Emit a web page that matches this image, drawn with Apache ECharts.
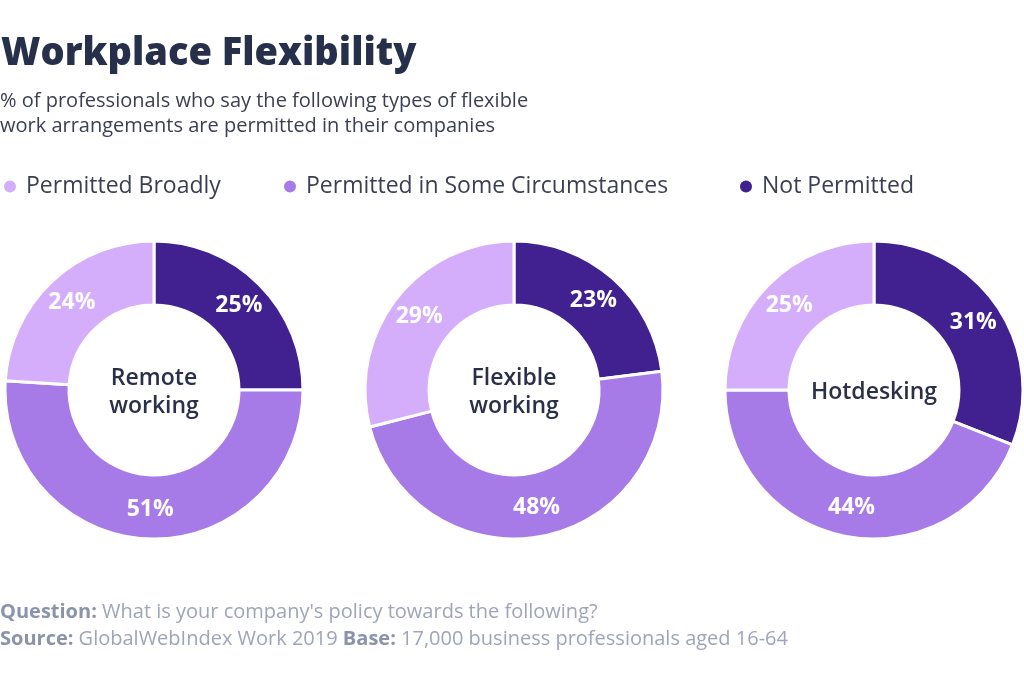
<!DOCTYPE html>
<html><head><meta charset="utf-8">
<script src="https://cdn.jsdelivr.net/npm/echarts@6/dist/echarts.min.js"></script>
<style>html,body{margin:0;padding:0;background:#fff}#c{width:1024px;height:683px}</style>
</head><body><div id="c"></div>
<script>
const categories = ['Not Permitted', 'Permitted in Some Circumstances', 'Permitted Broadly'];
const charts = ['Remote\nworking', 'Flexible\nworking', 'Hotdesking'];
const remoteWorking = [25, 51, 24];
const flexibleWorking = [23, 48, 29];
const hotdesking = [31, 44, 25];
const seriesValues = [remoteWorking, flexibleWorking, hotdesking];
const colors = ['#41208f', '#a77be7', '#d4aefb'];
const centersX = [154, 514, 874];
const FONT = 'Open Sans';

const chart = echarts.init(document.getElementById('c'), null, {renderer: 'canvas'});

const series = seriesValues.map((vals, i) => ({
  type: 'pie',
  center: [centersX[i], 390],
  radius: [85, 149],
  startAngle: 90,
  clockwise: true,
  avoidLabelOverlap: false,
  animation: false,
  silent: true,
  itemStyle: {borderColor: '#fff', borderWidth: 3},
  label: {
    show: true, position: 'inside', formatter: '{c}%',
    color: '#fff', fontFamily: FONT, fontWeight: 'bold', fontSize: 23
  },
  labelLine: {show: false},
  data: categories.map((c, j) => ({name: c, value: vals[j], itemStyle: {color: colors[j]}}))
}));

const legendBase = {
  icon: 'circle', itemWidth: 14, itemHeight: 14, itemGap: 0, padding: 0, orient: 'horizontal', top: 175,
  textStyle: {fontFamily: FONT, fontSize: 23, color: '#3b3f52', padding: [0, 0, 0, 4]}, selectedMode: false
};

chart.setOption({
  color: colors,
  legend: [
    Object.assign({}, legendBase, {left: 2, data: [categories[2]]}),
    Object.assign({}, legendBase, {left: 282, data: [categories[1]]}),
    Object.assign({}, legendBase, {left: 738, data: [categories[0]]})
  ],
  title: [
    {text: 'Workplace Flexibility', left: 1, top: 35, padding: 0,
     textStyle: {fontFamily: FONT, fontWeight: 800, fontSize: 38, color: '#27304a'}},
    {text: '% of professionals who say the following types of flexible\nwork arrangements are permitted in their companies', left: 0, top: 89, padding: 0,
     textStyle: {fontFamily: FONT, fontWeight: 'normal', fontSize: 20, lineHeight: 25, color: '#3b3f52'}}
  ].concat(charts.map((t, i) => ({
    text: t, left: centersX[i], top: 392, textAlign: 'center', textVerticalAlign: 'middle', padding: 0,
    textStyle: {fontFamily: FONT, fontWeight: 600, fontSize: 23, lineHeight: 28, color: '#2a3048'}
  }))),
  graphic: [
    {type: 'text', left: 0, top: 599, style: {
      text: '{b|Question:} What is your company\'s policy towards the following?\n{b|Source:} GlobalWebIndex Work 2019 {b|Base:} 17,000 business professionals aged 16-64',
      font: '20px ' + FONT, fill: '#9ea5b8', lineHeight: 27,
      rich: {b: {fontFamily: FONT, fontWeight: 'bold', fontSize: 20, fill: '#8b93ab', lineHeight: 27}}
    }}
  ],
  series: series
});
</script></body></html>
